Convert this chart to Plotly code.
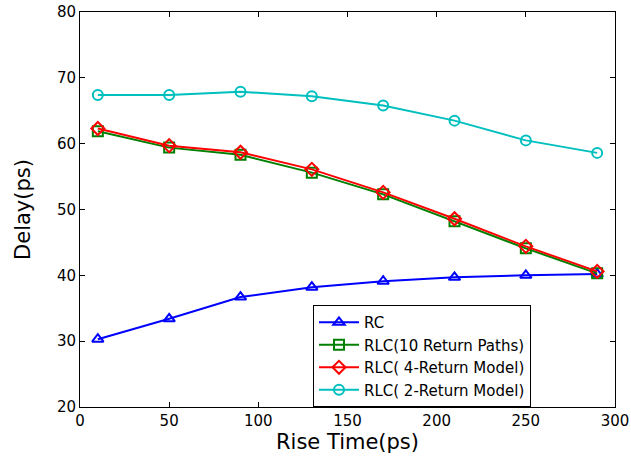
import plotly.graph_objects as go

rise_time = [10, 50, 90, 130, 170, 210, 250, 290]
rc = [30.3, 33.4, 36.7, 38.2, 39.1, 39.7, 40.0, 40.2]
rlc10 = [61.9, 59.4, 58.3, 55.6, 52.3, 48.2, 44.1, 40.3]
rlc4 = [62.3, 59.7, 58.7, 56.1, 52.6, 48.6, 44.4, 40.6]
rlc2 = [67.4, 67.4, 67.9, 67.2, 65.8, 63.5, 60.5, 58.6]

series = [
    ("RC", rc, "#0000ff", "triangle-up-open"),
    ("RLC(10 Return Paths)", rlc10, "#008000", "square-open"),
    ("RLC( 4-Return Model)", rlc4, "#ff0000", "diamond-open"),
    ("RLC( 2-Return Model)", rlc2, "#00bfbf", "circle-open"),
]

fig = go.Figure()
for name, ys, col, sym in series:
    fig.add_trace(go.Scatter(
        x=rise_time, y=ys, name=name, mode="lines+markers",
        line=dict(color=col, width=2),
        marker=dict(symbol=sym, size=10, color=col, line=dict(width=2, color=col)),
    ))

font = "DejaVu Sans, sans-serif"
axis_common = dict(
    showgrid=False, zeroline=False, showline=True, linecolor="black", linewidth=1,
    mirror="allticks", ticks="inside", ticklen=5, tickcolor="black",
    tickfont=dict(family=font, size=15, color="black"), automargin=False,
)
fig.update_layout(
    width=631, height=462,
    margin=dict(l=80, r=16, t=12, b=55),
    paper_bgcolor="white", plot_bgcolor="white",
    font=dict(family=font, color="black"),
    xaxis=dict(range=[0, 300], dtick=50,
               title=dict(text="Rise Time(ps)", font=dict(size=21), standoff=2),
               **axis_common),
    yaxis=dict(range=[20, 80], dtick=10,
               title=dict(text="Delay(ps)", font=dict(size=21), standoff=20),
               **axis_common),
    legend=dict(x=0.4355, y=0.129, xanchor="left", yanchor="middle",
                bordercolor="black", borderwidth=1, bgcolor="white",
                font=dict(family=font, size=15, color="black"),
                tracegroupgap=0, itemwidth=40),
    showlegend=True,
)
fig.write_html("out.html")
